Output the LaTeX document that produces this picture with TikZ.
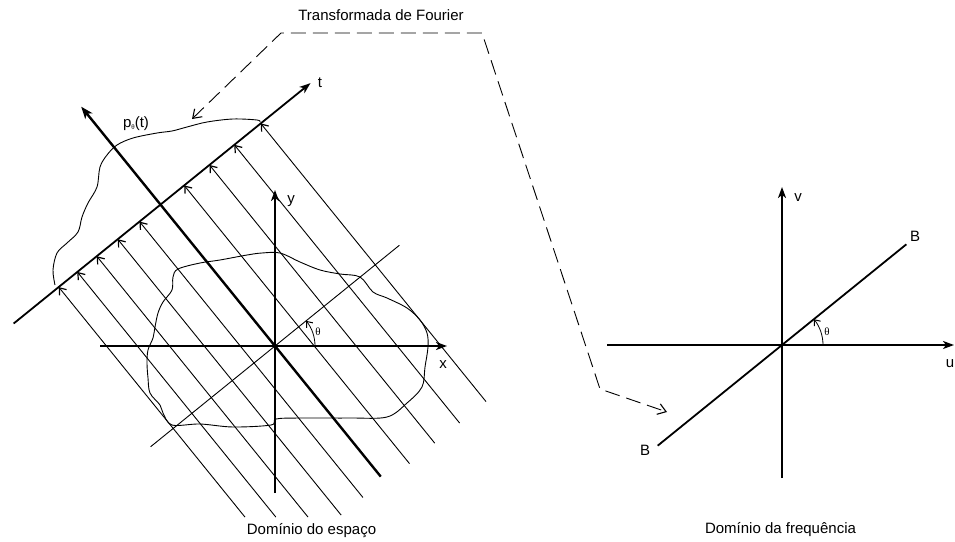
\documentclass[tikz,border=0pt]{standalone}
\usepackage{fontspec}
\setmainfont{Liberation Sans}
\newfontfamily\thetafont{Liberation Serif}
\usetikzlibrary{arrows.meta}
\tikzset{
  axisline/.style={line width=1.8pt,-{Stealth[length=11pt,width=8pt,inset=3pt]}},
  plainaxis/.style={line width=1.8pt},
  thickaxis/.style={line width=2.4pt,-{Stealth[length=12pt,width=9pt,inset=3pt]}},
  rayline/.style={line width=0.9pt,-{Straight Barb[length=6pt,width=9pt,line width=1.2pt]}},
  thinline/.style={line width=0.9pt},
  blob/.style={line width=0.9pt},
  fourier/.style={line width=0.9pt,dash pattern=on 15pt off 7pt,{Straight Barb[length=8pt,width=11pt,line width=1.1pt]}-{Straight Barb[length=8pt,width=11pt,line width=1.1pt]}},
  anglearc/.style={line width=0.8pt,-{Straight Barb[length=5pt,width=8pt,line width=1pt]}},
  lbl/.style={inner sep=0pt,anchor=base,font=\fontsize{15}{18}\selectfont},
  thlbl/.style={inner sep=0pt,anchor=center,font=\fontsize{11}{13}\selectfont\thetafont},
}
\begin{document}
\begin{tikzpicture}[x=1pt,y=-1pt]
\useasboundingbox (0,0) rectangle (955,541);

% ---------- left diagram: space domain ----------
\coordinate (O) at (275,346);
\coordinate (xL) at (100,346);
\coordinate (xR) at (447,346);
\coordinate (yB) at (275,493);
\coordinate (yT) at (275,190);
\draw[axisline] (xL) -- (xR);
\draw[axisline] (yB) -- (yT);

% object outline
\draw[blob] plot[smooth cycle,tension=0.55] coordinates {
 (178,269) (200,263) (220,260) (247,255) (262,253) (280,253) (300,262)
 (320,270) (340,274) (360,277) (373,292) (387,298) (407,308) (420,320)
 (427,333) (428,347) (425,367) (422,387) (407,403) (387,417) (350,418)
 (300,418) (276,419) (271,425) (233,427) (200,424) (172,425) (163,413)
 (160,405) (150,393) (148,378) (147,363) (148,350) (153,338) (155,327)
 (158,313) (163,302) (172,290) (173,277)};

% theta line through origin
\begin{scope}[shift={(O)},rotate=39]
  \coordinate (thA) at (-160,0);
  \coordinate (thB) at (160,0);
\end{scope}
\draw[thinline] (thA) -- (thB);
\path (O) ++(40,0) coordinate (arcL);
\draw[anglearc] (arcL) arc[start angle=0,end angle=-39,radius=40];
\node[thlbl] (thetaL) at (318,332) {θ};

% rotated frame: t axis and rays
\begin{scope}[shift={(160.5,204.6)},rotate=39]
  \coordinate (tL) at (-189,0);
  \coordinate (tR) at (193,0);
  \coordinate (pB) at (0,350);
  \coordinate (pT) at (0,-126);
  \foreach \tau/\len [count=\i] in {-131/296,-107/315.4,-82/335.6,-55/355,-27/355,30.5/358,63/358,95/358,129/358}{
    \coordinate (ra\i) at (\tau,0);
    \coordinate (rb\i) at (\tau,\len);
    \draw[rayline] (rb\i) -- (ra\i);
  }
\end{scope}
\draw[axisline] (tL) -- (tR);
\draw[thickaxis] (pB) -- (pT);

% projection curve
\draw[blob] plot[smooth,tension=0.55] coordinates {
 (55,285) (53,270) (57,253) (67,243) (78,232) (82,217) (88,203) (97,187)
 (100,167) (107,155) (117,145) (133,138) (157,133) (172,131) (187,127)
 (207,122) (233,119) (257,120) (260,122)};

\node[lbl] (tlab) at (320,87) {t};
\node[lbl] (plab) at (136,127) {p{\fontsize{7}{8}\selectfont\thetafont\raisebox{-2.5pt}{θ}}(t)};
\node[lbl] (ylab) at (291,203) {y};
\node[lbl] (xlab) at (443,368) {x};
\node[lbl] (dom1) at (311.5,534) {Domínio do espaço};

% ---------- Fourier transform arrow ----------
\coordinate (f1) at (192,119);
\coordinate (f2) at (281,33);
\coordinate (f3) at (482,33);
\coordinate (f4) at (600,389);
\coordinate (f5) at (667,412);
\draw[fourier] (f1) -- (f2) -- (f3) -- (f4) -- (f5);
\node[lbl] (ftlab) at (381,20) {Transformada de Fourier};

% ---------- right diagram: frequency domain ----------
\coordinate (O2) at (782,345);
\coordinate (uL) at (607,345);
\coordinate (uR) at (954,345);
\coordinate (vB) at (782,478);
\coordinate (vT) at (782,187);
\draw[axisline] (uL) -- (uR);
\draw[axisline] (vB) -- (vT);
\begin{scope}[shift={(O2)},rotate=39]
  \coordinate (bA) at (-160,0);
  \coordinate (bB) at (160,0);
\end{scope}
\draw[plainaxis] (bA) -- (bB);
\path (O2) ++(41,0) coordinate (arcR);
\draw[anglearc] (arcR) arc[start angle=0,end angle=-39,radius=41];
\node[thlbl] (thetaR) at (827,332) {θ};

\node[lbl] (vlab) at (798,201) {v};
\node[lbl] (ulab) at (950,367) {u};
\node[lbl] (B1) at (915,241) {B};
\node[lbl] (B2) at (645,455) {B};
\node[lbl] (dom2) at (780.5,533) {Domínio da frequência};
\end{tikzpicture}
\end{document}
